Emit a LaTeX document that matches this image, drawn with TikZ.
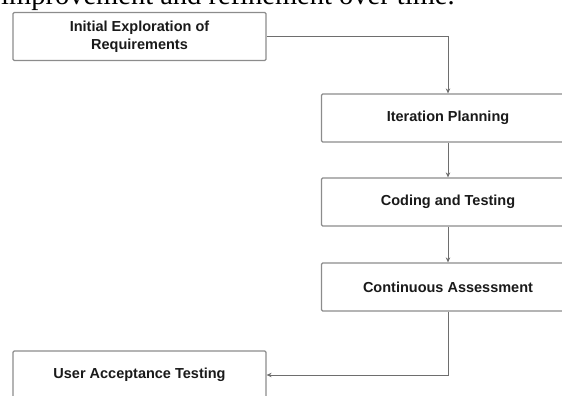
\documentclass[tikz,border=0pt]{standalone}
\usepackage{fontspec}
\setmainfont{Liberation Serif}
\newfontfamily\boxfont{Liberation Sans}
\usetikzlibrary{arrows.meta}
\definecolor{boxline}{HTML}{8C8C8C}
\definecolor{conn}{HTML}{6E6E6E}
\definecolor{txt}{HTML}{1A1A1A}
\tikzset{
  stepbox/.style={draw=boxline, line width=1.2pt, fill=white, rounded corners=1.2pt,
    minimum width=253pt, minimum height=48pt, inner sep=0pt, align=center,
    font=\boxfont\bfseries\fontsize{14.5pt}{18pt}\selectfont, text=txt},
  flow/.style={draw=conn, line width=0.9pt, -{Stealth[length=5pt,width=4.5pt]}},
  caption/.style={font=\fontsize{28.5pt}{30pt}\selectfont, text=black, inner sep=0pt}
}
\begin{document}
\begin{tikzpicture}[x=1pt,y=-1pt]
\useasboundingbox (0,0) rectangle (562,396);
\node[caption, anchor=base west] (cap) at (1,4.5) {improvement and refinement over time.};
\node[stepbox] (n1) at (139.5,36.5) {Initial Exploration of\\Requirements};
\node[stepbox] (n2) at (448,118) {Iteration Planning};
\node[stepbox] (n3) at (448,202) {Coding and Testing};
\node[stepbox] (n4) at (448,287) {Continuous Assessment};
\node[stepbox] (n5) at (139.5,375) {User Acceptance Testing};
\draw[flow] (n1.east) -| (n2.north);
\draw[flow] (n2) -- (n3);
\draw[flow] (n3) -- (n4);
\draw[flow] (n4.south) |- (n5.east);
\end{tikzpicture}
\end{document}
